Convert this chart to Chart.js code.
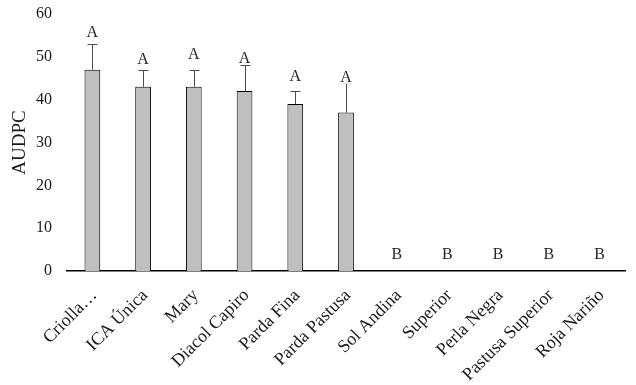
<!DOCTYPE html>
<html>
<head>
<meta charset="utf-8">
<script src="https://cdn.jsdelivr.net/npm/chart.js@4"></script>
<style>
html,body{margin:0;padding:0;background:#fff;}
#wrap{width:636px;height:385px;position:relative;}
</style>
</head>
<body>
<div id="wrap"><canvas id="c" width="636" height="385"></canvas></div>
<script>
const categories = ["Criolla…","ICA Única","Mary","Diacol Capiro","Parda Fina","Parda Pastusa","Sol Andina","Superior","Perla Negra","Pastusa Superior","Roja Nariño"];
const audpc      = [47, 43, 43, 42, 39, 37, 0, 0, 0, 0, 0];
const errorUpper = [53, 47, 47, 48, 42, 44, null, null, null, null, null];
const letters    = ["A","A","A","A","A","A","B","B","B","B","B"];
const letterAt   = [55.6, 49.3, 50.5, 49.5, 45.3, 45.1, 3.7, 3.7, 3.7, 3.7, 3.7];
const yTicks     = [0, 10, 20, 30, 40, 50, 60];

const FONT = "'Liberation Serif', 'DejaVu Serif', serif";

const extras = {
  id: 'extras',
  afterDatasetsDraw(chart) {
    const ctx = chart.ctx;
    const x = chart.scales.x, y = chart.scales.y;
    ctx.save();
    ctx.strokeStyle = '#4d4d4d';
    ctx.lineWidth = 1;
    errorUpper.forEach((e, i) => {
      if (e == null) return;
      const cx = Math.round(x.getPixelForValue(i)) + 0.5;
      const y0 = y.getPixelForValue(audpc[i]);
      const y1 = Math.round(y.getPixelForValue(e)) + 0.5;
      ctx.beginPath();
      ctx.moveTo(cx, y0);
      ctx.lineTo(cx, y1);
      ctx.moveTo(cx - 5, y1);
      ctx.lineTo(cx + 5, y1);
      ctx.stroke();
    });
    ctx.font = "16px " + FONT;
    ctx.textAlign = 'center';
    ctx.textBaseline = 'middle';
    letters.forEach((t, i) => {
      const cx = x.getPixelForValue(i);
      const cy = y.getPixelForValue(letterAt[i]);
      const w = ctx.measureText(t).width;
      ctx.fillStyle = '#fff';
      ctx.fillRect(cx - w/2 - 1, cy - 6, w + 2, 12);
      ctx.fillStyle = '#262626';
      ctx.fillText(t, cx, cy);
    });
    ctx.restore();
  }
};

new Chart(document.getElementById('c'), {
  type: 'bar',
  data: {
    labels: categories,
    datasets: [{
      data: audpc,
      backgroundColor: '#bfbfbf',
      borderColor: '#000000',
      borderWidth: 1,
      categoryPercentage: 1,
      barPercentage: 0.31
    }]
  },
  options: {
    responsive: false,
    animation: false,
    events: [],
    layout: { padding: { top: 14, right: 11, left: 9, bottom: 0 } },
    plugins: { legend: { display: false }, tooltip: { enabled: false } },
    scales: {
      x: {
        grid: { display: false, drawTicks: false },
        border: { display: true, color: '#000', width: 1.5 },
        ticks: {
          color: '#1a1a1a',
          font: { family: FONT, size: 18 },
          minRotation: 45, maxRotation: 45,
          padding: 14,
          labelOffset: 2,
          autoSkip: false
        },
        afterFit(s) { s.height = 114; s.paddingLeft = 0; s.paddingRight = 0; }
      },
      y: {
        min: 0, max: 60,
        afterBuildTicks(s) { s.ticks = yTicks.map(v => ({ value: v })); },
        grid: { display: false, drawTicks: false },
        border: { display: false },
        ticks: {
          color: '#1a1a1a',
          font: { family: FONT, size: 16 },
          padding: 15
        },
        title: {
          display: true,
          text: 'AUDPC',
          color: '#1a1a1a',
          font: { family: FONT, size: 19 },
          padding: 0
        },
        afterFit(s) { s.width = 58; s.paddingTop = 0; s.paddingBottom = 0; }
      }
    }
  },
  plugins: [extras]
});
</script>
</body>
</html>
